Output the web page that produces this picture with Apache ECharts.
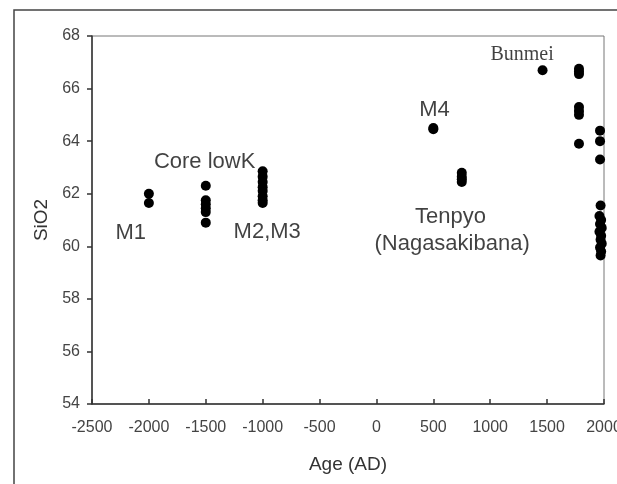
<!DOCTYPE html>
<html>
<head>
<meta charset="utf-8">
<script src="https://cdn.jsdelivr.net/npm/echarts@6/dist/echarts.min.js"></script>
<style>
html,body{margin:0;padding:0;background:#fff;}
#chart{width:617px;height:484px;}
</style>
</head>
<body>
<div id="chart"></div>
<script>
// ---- data ----
const xTicks = [-2500, 2000, 500];   // min, max, interval
const yTicks = [54, 68, 2];

const m1Age = [-2000, -2000];
const m1SiO2 = [62.0, 61.65];

const coreAge = [-1500, -1500, -1500, -1500, -1500, -1500];
const coreSiO2 = [62.3, 61.75, 61.6, 61.45, 61.3, 60.9];

const m23Age = [-1000, -1000, -1000, -1000, -1000, -1000, -1000, -1000];
const m23SiO2 = [62.85, 62.65, 62.45, 62.25, 62.1, 61.9, 61.75, 61.65];

const m4Age = [500, 500];
const m4SiO2 = [64.5, 64.45];

const tenpyoAge = [750, 750, 750, 750];
const tenpyoSiO2 = [62.8, 62.65, 62.55, 62.45];

const bunmeiAge = [1460];
const bunmeiSiO2 = [66.7];

const edoAge = [1780, 1780, 1780, 1780, 1780, 1780, 1780];
const edoSiO2 = [66.75, 66.65, 66.55, 65.3, 65.15, 65.0, 63.9];

const modernAge = [1965, 1965, 1965, 1970, 1960, 1975, 1965, 1980, 1960, 1975, 1970, 1980, 1965, 1975, 1970];
const modernSiO2 = [64.4, 64.0, 63.3, 61.55, 61.15, 61.0, 60.85, 60.7, 60.55, 60.4, 60.25, 60.1, 59.95, 59.8, 59.65];

const labelTexts = ['M1', 'Core lowK', 'M2,M3', 'M4', 'Tenpyo', '(Nagasakibana)', 'Bunmei'];
const labelAge = [-2160, -1510, -960, 510, 650, 665, 1280];
const labelSiO2 = [60.5, 63.2, 60.55, 65.17, 61.1, 60.1, 67.28];
const labelSerif = [false, false, false, false, false, false, true];

// ---- build ----
function zip(a, b) { return a.map((v, i) => [v, b[i]]); }
const allPts = []
  .concat(zip(m1Age, m1SiO2))
  .concat(zip(coreAge, coreSiO2))
  .concat(zip(m23Age, m23SiO2))
  .concat(zip(m4Age, m4SiO2))
  .concat(zip(tenpyoAge, tenpyoSiO2))
  .concat(zip(bunmeiAge, bunmeiSiO2))
  .concat(zip(edoAge, edoSiO2))
  .concat(zip(modernAge, modernSiO2));

const labelData = labelTexts.map((t, i) => ({
  value: [labelAge[i], labelSiO2[i]],
  label: {
    show: true,
    formatter: t,
    position: 'inside',
    color: '#111',
    fontFamily: labelSerif[i] ? 'Liberation Serif' : 'Liberation Sans',
    fontSize: labelSerif[i] ? 20 : 22
  }
}));

const chart = echarts.init(document.getElementById('chart'), null, { renderer: 'canvas' });
chart.setOption({
  animation: false,
  backgroundColor: '#fff',
  graphic: [{
    type: 'rect',
    shape: { x: 14, y: 10, width: 700, height: 600 },
    style: { fill: 'none', stroke: '#444', lineWidth: 1.5 },
    silent: true,
    z: -1
  }],
  grid: {
    left: 92, right: 13, top: 36, bottom: 80,
    containLabel: false,
    outerBoundsMode: 'none',
    show: true, borderColor: '#777', borderWidth: 1, backgroundColor: 'transparent'
  },
  xAxis: {
    type: 'value',
    min: xTicks[0], max: xTicks[1], interval: xTicks[2],
    name: 'Age (AD)', nameLocation: 'middle', nameGap: 51,
    nameTextStyle: { fontFamily: 'Liberation Sans', fontSize: 19, color: '#333' },
    axisLine: { show: true, onZero: false, lineStyle: { color: '#333', width: 1.5 } },
    axisTick: { show: true, inside: true, length: 5, lineStyle: { color: '#333', width: 1.5 } },
    axisLabel: { fontFamily: 'Liberation Sans', fontSize: 16, color: '#444', margin: 16,
      formatter: v => String(v) },
    splitLine: { show: false }
  },
  yAxis: {
    type: 'value',
    min: yTicks[0], max: yTicks[1], interval: yTicks[2],
    name: 'SiO2', nameLocation: 'middle', nameGap: 40,
    nameTextStyle: { fontFamily: 'Liberation Sans', fontSize: 19, color: '#333' },
    axisLine: { show: true, onZero: false, lineStyle: { color: '#333', width: 1.5 } },
    axisTick: { show: true, inside: false, length: 5, lineStyle: { color: '#333', width: 1.5 } },
    axisLabel: { fontFamily: 'Liberation Sans', fontSize: 16, color: '#444', margin: 12,
      formatter: v => String(v) },
    splitLine: { show: false }
  },
  series: [
    {
      type: 'scatter',
      data: allPts,
      symbol: 'circle',
      symbolSize: 10,
      itemStyle: { color: '#000', opacity: 1 },
      z: 3
    },
    {
      type: 'scatter',
      data: labelData,
      symbolSize: 0,
      itemStyle: { color: 'transparent' },
      silent: true,
      z: 4
    }
  ]
});
</script>
</body>
</html>
